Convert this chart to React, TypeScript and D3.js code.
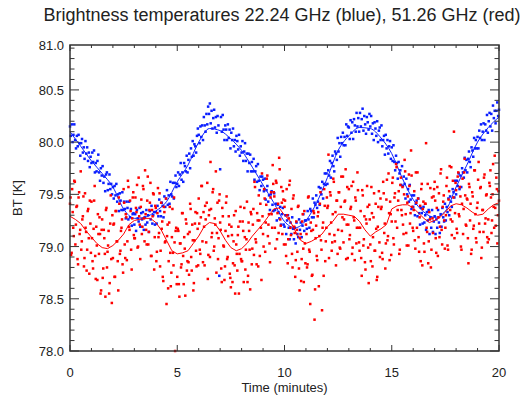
import React from 'react';
import * as d3 from 'd3';

// Time axis in minutes. Blue samples every 0.04 min, red samples in two
// interleaved sets every 0.05 min, smoothed curves at coarser steps.
const blueStep = 0.04;
const redStep = 0.05;
const blueLineStep = 0.5;
const redLineStep = 0.25;

const title = 'Brightness temperatures 22.24 GHz (blue), 51.26 GHz (red)';
const xTicks = [0, 5, 10, 15, 20];
const yTicks = [78.0, 78.5, 79.0, 79.5, 80.0, 80.5];
const yTopLabel = '81.0';

// 22.24 GHz channel samples
const blueDots = [
  80.15, 80.06, 80.17, 80.00, 80.07, 80.17, 80.02, 79.94, 80.06, 79.96, 80.07, 79.99, 79.87, 79.99, 80.03, 79.90, 79.95, 79.84, 80.01, 79.89, 79.95, 79.82, 79.90, 79.76, 79.86,
  79.80, 79.90, 79.81, 79.92, 79.71, 79.80, 79.72, 79.82, 79.88, 79.71, 79.63, 79.75, 79.68, 79.77, 79.61, 79.67, 79.53, 79.69, 79.71, 79.54, 79.60, 79.69, 79.55, 79.60, 79.50,
  79.57, 79.46, 79.58, 79.49, 79.60, 79.43, 79.50, 79.34, 79.51, 79.44, 79.35, 79.52, 79.35, 79.43, 79.36, 79.27, 79.43, 79.37, 79.26, 79.43, 79.28, 79.36, 79.20, 79.31, 79.32,
  79.21, 79.31, 79.15, 79.35, 79.27, 79.24, 79.37, 79.19, 79.32, 79.26, 79.33, 79.16, 79.28, 79.21, 79.35, 79.23, 79.30, 79.14, 79.34, 79.26, 79.39, 79.22, 79.30, 79.33, 79.21,
  79.33, 79.22, 79.39, 79.29, 79.45, 79.34, 79.29, 79.42, 79.39, 79.28, 79.48, 79.38, 79.46, 79.54, 79.40, 79.49, 79.41, 79.62, 79.50, 79.48, 79.61, 79.46, 79.61, 79.68, 79.57,
  79.60, 79.71, 79.58, 79.69, 79.80, 79.64, 79.71, 79.62, 79.80, 79.77, 79.72, 79.87, 79.71, 79.83, 79.89, 79.75, 79.94, 79.86, 80.01, 79.87, 79.98, 79.96, 79.90, 80.06, 80.13,
  80.07, 79.99, 80.15, 80.05, 80.16, 80.02, 80.24, 80.16, 80.10, 80.27, 80.17, 80.34, 80.27, 80.37, 80.18, 80.30, 80.13, 80.23, 80.31, 80.14, 80.24, 80.09, 80.25, 80.16, 78.72,
  79.74, 80.24, 80.10, 80.26, 80.12, 80.02, 80.16, 80.12, 80.02, 80.17, 80.04, 80.12, 79.94, 80.09, 80.02, 80.13, 79.96, 80.02, 79.91, 80.06, 80.01, 79.93, 80.07, 79.87, 79.96,
  79.90, 80.01, 79.82, 79.91, 79.99, 79.82, 79.89, 79.72, 79.89, 79.80, 79.88, 79.72, 79.81, 79.72, 79.84, 79.64, 79.72, 79.77, 79.62, 79.79, 79.63, 79.54, 79.67, 79.58, 79.67,
  79.64, 79.53, 79.65, 79.45, 79.54, 79.58, 79.43, 79.49, 79.35, 79.50, 79.53, 79.40, 79.34, 79.51, 79.35, 79.41, 79.25, 79.40, 79.33, 79.27, 79.38, 79.21, 79.31, 79.37, 79.21,
  79.19, 79.30, 79.12, 79.25, 79.30, 79.18, 79.07, 79.23, 79.12, 79.28, 79.17, 79.07, 79.18, 79.03, 79.23, 79.12, 79.09, 79.26, 79.16, 79.23, 79.09, 79.20, 79.31, 79.15, 79.25,
  79.25, 79.17, 79.34, 79.26, 79.18, 79.36, 79.34, 79.28, 79.46, 79.28, 79.42, 79.40, 79.49, 79.37, 79.43, 79.57, 79.40, 79.56, 79.50, 79.62, 79.46, 79.60, 79.70, 79.59, 79.70,
  79.60, 79.73, 79.68, 79.82, 79.66, 79.80, 79.87, 79.77, 79.72, 79.91, 79.89, 79.83, 80.04, 79.91, 79.99, 79.86, 80.05, 79.99, 80.09, 79.97, 80.05, 79.97, 80.17, 80.06, 80.15,
  80.14, 80.03, 80.21, 80.09, 80.19, 80.03, 80.22, 80.16, 80.10, 80.28, 80.15, 80.23, 80.10, 80.28, 80.15, 80.22, 80.32, 80.11, 80.25, 80.17, 80.08, 80.24, 80.19, 80.12, 80.27,
  80.15, 80.25, 80.08, 80.18, 80.02, 80.19, 80.13, 80.06, 80.20, 80.00, 80.11, 80.14, 80.02, 80.16, 79.96, 80.02, 80.06, 79.88, 80.07, 79.94, 80.02, 79.89, 79.96, 80.01, 79.84,
  79.95, 79.82, 79.97, 79.81, 79.73, 79.87, 79.80, 79.65, 79.81, 79.70, 79.73, 79.59, 79.77, 79.58, 79.67, 79.60, 79.46, 79.65, 79.50, 79.55, 79.43, 79.59, 79.45, 79.36, 79.49,
  79.38, 79.49, 79.30, 79.41, 79.44, 79.29, 79.46, 79.32, 79.21, 79.37, 79.32, 79.22, 79.38, 79.23, 79.30, 79.16, 79.33, 79.25, 79.35, 79.12, 79.28, 79.18, 79.35, 79.14, 79.24,
  79.29, 79.12, 79.26, 79.18, 79.35, 79.23, 79.13, 79.31, 79.19, 79.37, 79.28, 79.24, 79.41, 79.25, 79.38, 79.33, 79.46, 79.30, 79.48, 79.43, 79.38, 79.55, 79.52, 79.47, 79.63,
  79.50, 79.63, 79.58, 79.70, 79.55, 79.68, 79.57, 79.75, 79.71, 79.66, 79.85, 79.73, 79.83, 79.71, 79.84, 79.91, 79.81, 79.76, 79.95, 79.92, 79.86, 80.04, 79.94, 80.02, 79.94,
  80.05, 79.94, 80.11, 80.04, 80.17, 80.02, 80.10, 80.18, 80.02, 80.17, 80.11, 80.26, 80.09, 80.20, 80.28, 80.15, 80.27, 80.11, 80.35, 80.23, 80.30, 80.18, 80.30, 80.38, 80.25,
  80.31,
];

// 51.26 GHz channel samples, set A (t = 0, 0.05, ...)
const redDotsA = [
  79.41, 78.92, 79.55, 79.18, 79.63, 79.02, 79.38, 78.88, 79.47, 79.12,
  79.72, 79.05, 79.29, 78.81, 79.51, 79.14, 78.97, 79.36, 78.74, 79.22,
  79.43, 78.86, 79.17, 79.58, 78.69, 79.01, 79.31, 78.93, 79.12, 78.58,
  79.26, 78.79, 79.08, 78.52, 79.37, 78.95, 79.15, 78.65, 79.49, 78.46,
  78.89, 79.22, 78.71, 79.34, 79.05, 78.58, 79.41, 78.96, 79.18, 78.83,
  79.55, 79.02, 79.31, 78.87, 79.63, 79.19, 79.44, 78.97, 79.27, 79.52,
  79.08, 79.47, 79.33, 78.99, 79.66, 79.21, 79.38, 79.12, 79.58, 79.27,
  79.73, 79.16, 79.44, 79.02, 79.35, 79.61, 78.91, 79.29, 79.50, 79.09,
  79.37, 78.95, 79.56, 79.13, 78.81, 79.42, 79.24, 78.67, 79.33, 79.05,
  78.45, 79.21, 78.86, 79.38, 78.62, 79.09, 78.94, 79.47, 78.00, 79.18,
  78.71, 79.15, 78.52, 79.03, 78.83, 79.32, 78.64, 78.98, 79.26, 78.77,
  79.12, 78.73, 79.41, 78.90, 79.21, 78.58, 79.06, 79.33, 78.81, 79.17,
  79.46, 78.97, 79.28, 79.58, 78.85, 79.19, 79.39, 79.04, 79.61, 78.92,
  79.35, 79.81, 79.09, 79.52, 78.96, 79.27, 79.72, 79.13, 78.88, 79.44,
  79.23, 78.79, 79.37, 79.01, 78.68, 79.15, 79.48, 78.90, 79.29, 78.74,
  78.61, 79.11, 78.84, 79.30, 78.55, 79.02, 78.77, 79.19, 78.93, 79.38,
  78.86, 79.24, 78.66, 79.09, 78.97, 79.43, 78.72, 79.15, 78.59, 79.31,
  78.98, 79.36, 79.62, 79.07, 78.83, 79.25, 79.49, 78.91, 79.18, 79.70,
  79.12, 79.55, 78.95, 79.40, 79.68, 79.21, 79.03, 79.47, 79.31, 79.78,
  79.52, 79.18, 79.63, 79.07, 79.41, 79.85, 79.26, 79.57, 79.12, 79.45,
  79.38, 79.02, 79.55, 78.84, 79.27, 79.63, 79.11, 78.93, 79.46, 79.19,
  78.71, 79.24, 78.95, 79.39, 78.58, 79.12, 78.88, 79.31, 78.66, 79.03,
  79.21, 78.80, 79.47, 78.97, 78.45, 79.15, 78.73, 79.34, 78.30, 79.08,
  78.91, 79.29, 78.62, 79.41, 79.06, 78.39, 79.23, 79.55, 78.86, 79.18,
  79.37, 79.88, 79.12, 79.49, 78.96, 79.31, 79.62, 79.05, 78.82, 79.44,
  79.16, 79.52, 78.98, 79.67, 79.28, 79.04, 79.43, 79.74, 79.21, 78.89,
  79.55, 79.11, 79.38, 78.93, 79.62, 79.25, 79.47, 79.03, 79.71, 79.18,
  78.96, 79.34, 78.72, 79.49, 79.07, 78.85, 79.26, 79.58, 78.99, 79.40,
  79.02, 79.57, 78.81, 79.28, 78.96, 79.41, 78.68, 79.19, 79.53, 78.90,
  79.36, 78.94, 79.62, 79.13, 78.79, 79.45, 79.06, 79.70, 78.87, 79.31,
  79.24, 79.66, 79.02, 79.51, 79.79, 79.18, 79.44, 78.93, 79.59, 79.35,
  79.57, 79.12, 79.83, 79.31, 79.01, 79.48, 79.69, 79.22, 79.92, 79.38,
  79.15, 79.53, 78.98, 79.42, 79.71, 79.09, 79.28, 78.86, 79.60, 79.36,
  79.03, 79.41, 79.99, 79.14, 78.84, 79.33, 79.56, 78.97, 79.27, 79.48,
  79.62, 79.08, 79.37, 78.91, 79.51, 79.19, 79.74, 79.02, 79.43, 79.25,
  79.18, 79.58, 79.01, 79.45, 79.77, 79.26, 79.11, 79.63, 80.10, 79.32,
  79.54, 79.13, 79.71, 79.29, 79.48, 78.97, 79.65, 79.36, 79.84, 79.21,
  79.46, 79.08, 79.60, 79.25, 78.93, 79.52, 79.17, 79.73, 79.31, 79.04,
  79.42, 79.81, 79.14, 79.57, 78.99, 79.35, 79.66, 79.22, 79.49, 79.09,
  79.26, 79.61, 79.73, 79.13, 79.50, 79.38, 79.87, 79.20, 79.55, 79.30,
  79.44,
];

// 51.26 GHz channel samples, set B (t = 0.025, 0.075, ...)
const redDotsB = [
  79.47, 78.94, 79.33, 79.10, 79.62, 79.21, 79.39, 78.83, 79.52, 79.16,
  78.97, 79.26, 79.48, 78.89, 79.18, 78.77, 79.34, 79.08, 79.44, 78.94,
  79.08, 78.79, 79.44, 78.91, 79.19, 78.68, 79.12, 79.28, 78.55, 79.16,
  78.70, 79.16, 78.93, 79.35, 78.80, 79.01, 78.55, 79.22, 78.88, 79.30,
  79.21, 78.71, 79.34, 79.05, 78.86, 79.47, 78.93, 79.15, 79.26, 78.75,
  79.42, 78.89, 79.28, 79.05, 79.57, 79.16, 79.34, 78.78, 79.47, 79.11,
  79.08, 79.37, 79.59, 79.00, 79.29, 78.88, 79.45, 79.19, 79.55, 79.05,
  79.31, 79.02, 79.67, 79.14, 79.42, 78.91, 79.35, 79.51, 78.78, 79.39,
  78.86, 79.32, 79.09, 79.51, 78.96, 79.17, 78.71, 79.38, 79.04, 79.46,
  79.10, 78.60, 79.23, 78.94, 78.75, 79.36, 78.82, 79.04, 79.15, 78.64,
  79.17, 78.64, 79.03, 78.80, 79.32, 78.91, 79.09, 78.53, 79.22, 78.86,
  78.85, 79.14, 79.36, 78.77, 79.06, 78.65, 79.22, 78.96, 79.32, 78.82,
  79.22, 78.93, 79.58, 79.05, 79.33, 78.82, 79.26, 79.42, 78.69, 79.30,
  78.90, 79.36, 79.13, 79.55, 79.00, 79.21, 78.75, 79.42, 79.08, 79.50,
  79.16, 78.66, 79.29, 79.00, 78.81, 79.42, 78.88, 79.10, 79.21, 78.70,
  79.19, 78.66, 79.05, 78.82, 79.34, 78.93, 79.11, 78.55, 79.24, 78.88,
  78.86, 79.15, 79.37, 78.78, 79.07, 78.66, 79.23, 78.97, 79.33, 78.83,
  79.21, 78.92, 79.57, 79.04, 79.32, 78.81, 79.25, 79.41, 78.68, 79.29,
  79.00, 79.46, 79.23, 79.65, 79.10, 79.31, 78.85, 79.52, 79.18, 79.60,
  79.48, 78.98, 79.61, 79.32, 79.13, 79.74, 79.20, 79.42, 79.53, 79.02,
  79.44, 78.91, 79.30, 79.07, 79.59, 79.18, 79.36, 78.80, 79.49, 79.13,
  78.87, 79.16, 79.38, 78.79, 79.08, 78.67, 79.24, 78.98, 79.34, 78.84,
  79.12, 78.83, 79.48, 78.95, 79.23, 78.72, 79.16, 79.32, 78.59, 79.20,
  78.87, 79.33, 79.10, 79.52, 78.97, 79.18, 78.72, 79.39, 79.05, 79.47,
  79.39, 78.89, 79.52, 79.23, 79.04, 79.65, 79.11, 79.33, 79.44, 78.93,
  79.52, 78.99, 79.38, 79.15, 79.67, 79.26, 79.44, 78.88, 79.57, 79.21,
  79.07, 79.36, 79.58, 78.99, 79.28, 78.87, 79.44, 79.18, 79.54, 79.04,
  79.18, 78.89, 79.54, 79.01, 79.29, 78.78, 79.22, 79.38, 78.65, 79.26,
  78.86, 79.32, 79.09, 79.51, 78.96, 79.17, 78.71, 79.38, 79.04, 79.46,
  79.38, 78.88, 79.51, 79.22, 79.03, 79.64, 79.10, 79.32, 79.43, 78.92,
  79.61, 79.08, 79.47, 79.24, 79.76, 79.35, 79.53, 78.97, 79.66, 79.30,
  79.21, 79.50, 79.72, 79.13, 79.42, 79.01, 79.58, 79.32, 79.68, 79.18,
  79.35, 79.06, 79.71, 79.18, 79.46, 78.95, 79.39, 79.55, 78.82, 79.43,
  78.95, 79.41, 79.18, 79.60, 79.05, 79.26, 78.80, 79.47, 79.13, 79.55,
  79.44, 78.94, 79.57, 79.28, 79.09, 79.70, 79.16, 79.38, 79.49, 78.98,
  79.30, 79.66, 78.97, 79.53, 79.35, 79.76, 79.24, 79.47, 79.08, 79.61,
  79.17, 79.67, 79.31, 79.57, 79.00, 79.41, 79.12, 79.71, 79.49, 79.20,
  79.45, 78.84, 79.57, 79.41, 78.97, 79.48, 79.20, 79.73, 79.08, 79.37,
  79.64, 79.22, 79.56, 78.89, 79.35, 79.14, 79.69, 79.27, 79.50, 79.04,
  79.07, 79.58, 79.47, 79.25, 79.79, 79.18, 79.37, 79.66, 79.03, 79.53,
];

// smoothed 22.24 GHz curve, every 0.5 min
const blueLine = [
  80.10, 79.96, 79.82, 79.70, 79.57, 79.36, 79.27, 79.28, 79.34, 79.43,
  79.62, 79.78, 80.00, 80.13, 80.11, 80.03, 79.92, 79.76, 79.59, 79.42,
  79.24, 79.18, 79.25, 79.42, 79.66, 79.92, 80.06, 80.14, 80.13, 80.04,
  79.89, 79.65, 79.45, 79.33, 79.28, 79.34, 79.57, 79.78, 80.00, 80.14,
  80.24,
];

// smoothed 51.26 GHz curve, every 0.25 min
const redLine = [
  79.29, 79.26, 79.22, 79.15, 79.09, 79.03, 78.99, 78.98, 79.01, 79.06,
  79.12, 79.21, 79.25, 79.26, 79.27, 79.27, 79.23, 79.16, 79.06, 78.96,
  78.93, 78.94, 78.96, 79.03, 79.10, 79.19, 79.23, 79.22, 79.15, 79.06,
  78.99, 78.96, 78.98, 79.03, 79.10, 79.16, 79.22, 79.29, 79.36, 79.37,
  79.30, 79.25, 79.15, 79.06, 79.03, 79.05, 79.08, 79.12, 79.19, 79.24,
  79.31, 79.31, 79.30, 79.29, 79.24, 79.16, 79.10, 79.14, 79.17, 79.21,
  79.36, 79.39, 79.40, 79.40, 79.37, 79.32, 79.27, 79.23, 79.25, 79.28,
  79.33, 79.39, 79.41, 79.40, 79.37, 79.33, 79.30, 79.31, 79.36, 79.40,
  79.42,
];

const W = 524;
const H = 401;
const left = 70, right = 499, top = 45, bottom = 351;
const font = '"Liberation Sans", Arial, Helvetica, sans-serif';
const axisColor = '#333';
const textColor = '#222';
const blue = '#0a1eff';
const red = '#ff0000';

type Pt = { t: number; v: number };

const App = () => {
  const x = d3.scaleLinear().domain([0, 20]).range([left, right]);
  const y = d3.scaleLinear().domain([78, 80.93]).range([bottom, top]);

  const bluePts: Pt[] = blueDots.map((v, i) => ({ t: i * blueStep, v }));
  const redPts: Pt[] = [
    ...redDotsA.map((v, i) => ({ t: i * redStep, v })),
    ...redDotsB.map((v, i) => ({ t: redStep / 2 + i * redStep, v })),
  ];
  const blueCurve: Pt[] = blueLine.map((v, i) => ({ t: i * blueLineStep, v }));
  const redCurve: Pt[] = redLine.map((v, i) => ({ t: i * redLineStep, v }));

  const smooth = d3.line<Pt>().x(d => x(d.t)).y(d => y(d.v)).curve(d3.curveMonotoneX);
  const jagged = d3.line<Pt>().x(d => x(d.t)).y(d => y(d.v));

  const xMinor = d3.range(0, 21, 1).filter(t => t % 5 !== 0);
  const yMinor = d3.range(781, 810, 1).map(v => v / 10).filter(v => Math.round(v * 10) % 5 !== 0);

  const s = 2.5; // dot size

  return (
    <svg width={W} height={H} style={{ position: 'absolute', left: 0, top: 0, background: '#fff' }}
      fontFamily={font}>
      <text x={282} y={21} textAnchor="middle" fontSize={18} fill={textColor}>{title}</text>

      {/* data */}
      <g>
        {bluePts.map((d, i) => (
          <rect key={'b' + i} x={x(d.t) - s / 2} y={y(d.v) - s / 2} width={s} height={s} fill={blue} />
        ))}
        <path d={smooth(blueCurve) || ''} fill="none" stroke={blue} strokeWidth={1} />
        {redPts.map((d, i) => (
          <rect key={'r' + i} x={x(d.t) - s / 2} y={y(d.v) - s / 2} width={s} height={s} fill={red} />
        ))}
        <path d={jagged(redCurve) || ''} fill="none" stroke={red} strokeWidth={1} />
      </g>

      {/* box and inward ticks on all sides */}
      <g stroke={axisColor} strokeWidth={1}>
        {xTicks.map(t => (
          <g key={'xt' + t}>
            <line x1={x(t)} x2={x(t)} y1={bottom} y2={bottom - 6} />
            <line x1={x(t)} x2={x(t)} y1={top} y2={top + 6} />
          </g>
        ))}
        {xMinor.map(t => (
          <g key={'xm' + t}>
            <line x1={x(t)} x2={x(t)} y1={bottom} y2={bottom - 3} />
            <line x1={x(t)} x2={x(t)} y1={top} y2={top + 3} />
          </g>
        ))}
        {yTicks.map(v => (
          <g key={'yt' + v}>
            <line x1={left} x2={left + 9} y1={y(v)} y2={y(v)} />
            <line x1={right} x2={right - 9} y1={y(v)} y2={y(v)} />
          </g>
        ))}
        {yMinor.map(v => (
          <g key={'ym' + v}>
            <line x1={left} x2={left + 4.5} y1={y(v)} y2={y(v)} />
            <line x1={right} x2={right - 4.5} y1={y(v)} y2={y(v)} />
          </g>
        ))}
        <rect x={left} y={top} width={right - left} height={bottom - top} fill="none" strokeWidth={1.5} />
      </g>

      {/* labels */}
      <g fontSize={13} fill={textColor}>
        {xTicks.map(t => (
          <text key={'xl' + t} x={x(t)} y={bottom + 26} textAnchor="middle">{t}</text>
        ))}
        {yTicks.map(v => (
          <text key={'yl' + v} x={left - 6} y={y(v) + 5} textAnchor="end">{v.toFixed(1)}</text>
        ))}
        <text x={left - 6} y={top + 5} textAnchor="end">{yTopLabel}</text>
        <text x={(left + right) / 2} y={bottom + 41} textAnchor="middle">Time (minutes)</text>
        <text transform={`translate(22,${(top + bottom) / 2}) rotate(-90)`} textAnchor="middle">BT [K]</text>
      </g>
    </svg>
  );
};

export default App;
